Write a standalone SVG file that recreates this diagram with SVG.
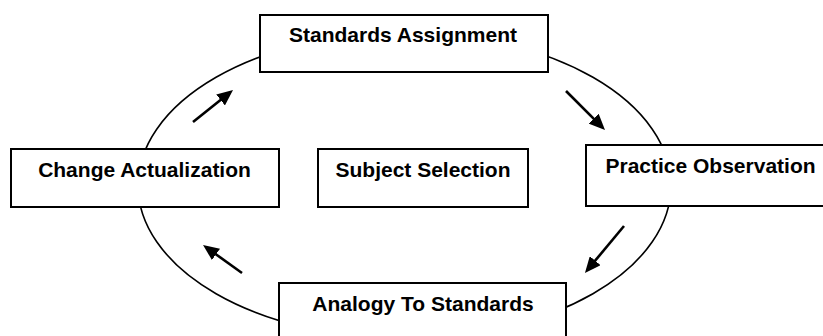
<svg xmlns="http://www.w3.org/2000/svg" width="823" height="336" viewBox="0 0 823 336">
  <style>
    .box { fill: #ffffff; stroke: #000000; stroke-width: 2; }
    .label { font-family: "Liberation Sans", Arial, sans-serif; font-weight: bold; font-size: 21px; fill: #000000; text-anchor: middle; }
    .cycle { fill: none; stroke: #000000; stroke-width: 1.6; }
    .flow { fill: none; stroke: #000000; stroke-width: 2.6; marker-end: url(#head); }
  </style>
  <defs>
    <marker id="head" markerUnits="userSpaceOnUse" markerWidth="16" markerHeight="14" refX="2" refY="7" orient="auto">
      <path d="M0,0 L16,7 L0,14 z" fill="#000000"/>
    </marker>
  </defs>
  <rect width="823" height="336" fill="#ffffff"/>

  <!-- process cycle -->
  <ellipse class="cycle" cx="404.5" cy="185.5" rx="266.5" ry="153"/>

  <!-- direction arrows -->
  <g id="connectors">
    <path class="flow" d="M193,122 L222.1,98.75"/>
    <path class="flow" d="M566,91 L595.1,120.1"/>
    <path class="flow" d="M624,226 L593.9,262.2"/>
    <path class="flow" d="M242,273 L214.4,253.2"/>
  </g>

  <g id="standards-assignment">
    <rect class="box" x="260" y="15" width="288" height="57"/>
    <text class="label" x="403" y="42">Standards Assignment</text>
  </g>

  <g id="change-actualization">
    <rect class="box" x="11" y="149" width="268" height="58"/>
    <text class="label" x="144.5" y="177">Change Actualization</text>
  </g>

  <g id="subject-selection">
    <rect class="box" x="318" y="149" width="210" height="58"/>
    <text class="label" x="423" y="177">Subject Selection</text>
  </g>

  <g id="practice-observation">
    <rect class="box" x="586" y="145" width="250" height="61"/>
    <text class="label" x="710.5" y="173">Practice Observation</text>
  </g>

  <g id="analogy-to-standards">
    <rect class="box" x="279" y="283" width="287" height="64"/>
    <text class="label" x="423" y="311">Analogy To Standards</text>
  </g>
</svg>
